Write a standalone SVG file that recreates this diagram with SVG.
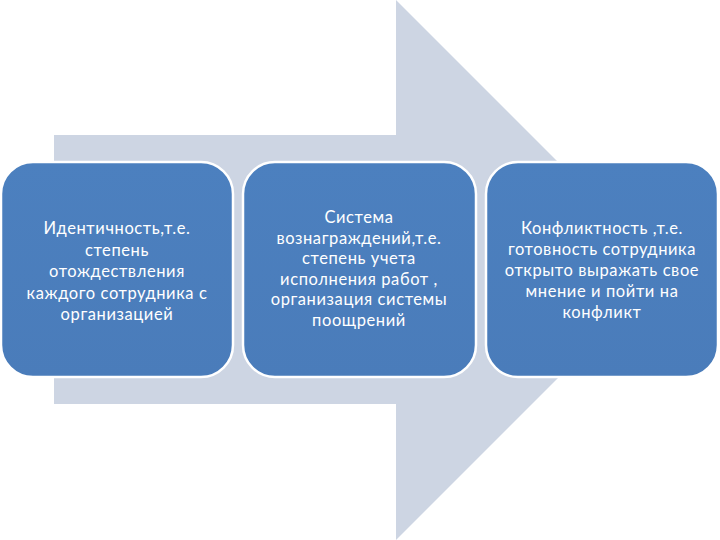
<svg xmlns="http://www.w3.org/2000/svg" width="720" height="540" viewBox="0 0 720 540">
<defs>
<linearGradient id="bg" x1="0" y1="0" x2="0" y2="1">
<stop offset="0" stop-color="#4c80bf"/>
<stop offset="1" stop-color="#4a7cba"/>
</linearGradient>
<style>
.box{fill:url(#bg);stroke:#ffffff;stroke-width:2.5}
.t{font-family:Lato,"Liberation Sans",sans-serif;font-size:16.5px;letter-spacing:0.6px;fill:#ffffff;text-anchor:middle}
</style>
</defs>
<rect width="720" height="540" fill="#ffffff"/>
<g id="arrow">
<polygon points="54,135 396,135 396,0 666,270 396,540 396,404 54,404" fill="#cdd5e3"/>
</g>
<g id="connectors"></g>
<g id="node1">
<rect class="box" x="1" y="162" width="232" height="215" rx="32" ry="32"/>
<text class="t" x="117" y="234">Идентичность,т.е.</text>
<text class="t" x="117" y="256">степень</text>
<text class="t" x="117" y="277">отождествления</text>
<text class="t" x="117" y="299">каждого сотрудника с</text>
<text class="t" x="117" y="320">организацией</text>
</g>
<g id="node2">
<rect class="box" x="243" y="162" width="233" height="215" rx="32" ry="32"/>
<text class="t" x="359" y="223">Система</text>
<text class="t" x="359" y="243.5">вознаграждений,т.е.</text>
<text class="t" x="359" y="264">степень учета</text>
<text class="t" x="359" y="284.5">исполнения работ ,</text>
<text class="t" x="359" y="305">организация системы</text>
<text class="t" x="359" y="325.5">поощрений</text>
</g>
<g id="node3">
<rect class="box" x="486" y="162" width="232" height="215" rx="32" ry="32"/>
<text class="t" x="602" y="234">Конфликтность ,т.е.</text>
<text class="t" x="602" y="255">готовность сотрудника</text>
<text class="t" x="602" y="276">открыто выражать свое</text>
<text class="t" x="602" y="297">мнение и пойти на</text>
<text class="t" x="602" y="318">конфликт</text>
</g>
</svg>
